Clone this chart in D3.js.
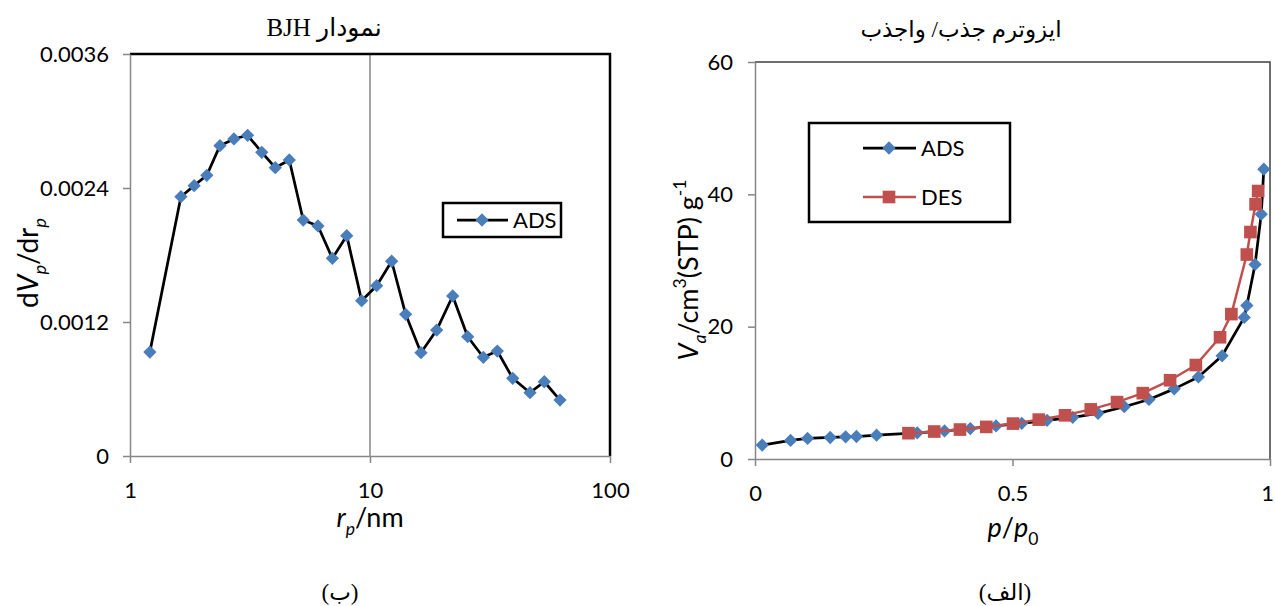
<!DOCTYPE html>
<html>
<head>
<meta charset="utf-8">
<script src="https://cdn.jsdelivr.net/npm/d3@7"></script>
<style>
body { margin: 0; background: #fff; }
text { font-family: Lato, "Open Sans", sans-serif; fill: #000; }
.fa { font-family: "Liberation Serif", "DejaVu Serif", "DejaVu Sans", serif; }
</style>
</head>
<body>
<script>
// BJH plot (left): pore radius (nm) vs dVp/drp
var bjhRadius = [1.21, 1.63, 1.85, 2.09, 2.37, 2.71, 3.09, 3.54, 4.03, 4.61, 5.27, 6.07, 6.97, 8.0,
                 9.23, 10.66, 12.31, 14.08, 16.31, 18.96, 22.11, 25.53, 29.66, 33.92, 39.32, 46.42, 53.23, 61.9];
var bjhAds = [0.000931, 0.002322, 0.002421, 0.002514, 0.002779, 0.002839, 0.002872, 0.00272, 0.002582, 0.002651,
              0.002113, 0.00206, 0.00177, 0.001973, 0.001391, 0.001525, 0.001744, 0.001269, 0.000925, 0.001128,
              0.001433, 0.001068, 0.000884, 0.00094, 0.000696, 0.000567, 0.000665, 0.000501];
var bjhTicksX = [1, 10, 100];
var bjhTicksY = [0, 0.0012, 0.0024, 0.0036];

// isotherm (right): p/p0 vs adsorbed volume
var adsP = [0.014, 0.069, 0.102, 0.146, 0.176, 0.197, 0.236, 0.315, 0.368, 0.418, 0.468, 0.518, 0.567,
            0.617, 0.666, 0.717, 0.765, 0.814, 0.861, 0.907, 0.950, 0.955, 0.971, 0.983, 0.988];
var adsV = [2.1, 2.8, 3.1, 3.25, 3.35, 3.4, 3.6, 3.95, 4.25, 4.6, 5.0, 5.4, 5.85,
            6.3, 6.9, 7.9, 9.0, 10.6, 12.4, 15.6, 21.4, 23.2, 29.4, 37.0, 43.8];
var desP = [0.298, 0.348, 0.398, 0.449, 0.501, 0.551, 0.602, 0.652, 0.703, 0.753, 0.806, 0.856, 0.903,
            0.925, 0.955, 0.962, 0.972, 0.977];
var desV = [3.9, 4.15, 4.45, 4.85, 5.35, 5.95, 6.6, 7.5, 8.6, 9.95, 11.9, 14.2, 18.4,
            21.9, 30.9, 34.3, 38.5, 40.5];
var isoTicksX = [0, 0.5, 1];
var isoTicksY = [0, 20, 40, 60];

var blue = "#4a7ebb", red = "#c0504d", axisGray = "#868686";

var svg = d3.select("body").append("svg")
    .attr("width", 1275)
    .attr("height", 606);
svg.append("rect").attr("width", 1275).attr("height", 606).attr("fill", "#fff");

// text with italic / sub / sup parts
function rich(g, parts) {
  var t = g.append("text");
  var shift = 0;
  parts.forEach(function(p) {
    var s = t.append("tspan").text(p.t);
    var target = p.sub ? 0.3 : (p.sup ? -0.45 : 0);
    var fs = (p.sub || p.sup) ? 0.65 : 1;
    if (target !== shift) {
      // dy is measured in the tspan's own font size
      s.attr("dy", ((target - shift) / fs) + "em");
      shift = target;
    }
    if (fs !== 1) s.attr("font-size", fs + "em");
    if (p.i) s.attr("font-style", "italic");
  });
  return t;
}

function styleAxis(g) {
  g.select(".domain").attr("stroke", axisGray).attr("stroke-width", 1.5);
  g.selectAll(".tick line").attr("stroke", axisGray).attr("stroke-width", 1.5);
  g.selectAll(".tick text").attr("font-size", 22).attr("font-family", "Lato, sans-serif").attr("fill", "#000");
}

var diamond = d3.symbol().type(d3.symbolSquare).size(88);
var square = d3.symbol().type(d3.symbolSquare).size(160);

// ---------- left: BJH ----------
(function() {
  var x = d3.scaleLog().domain([1, 100]).range([130, 610]);
  var y = d3.scaleLinear().domain([0, 0.0036]).range([456, 54]);

  // gridline at 10
  svg.append("line")
      .attr("x1", x(10)).attr("x2", x(10))
      .attr("y1", y(0.0036)).attr("y2", y(0))
      .attr("stroke", axisGray).attr("stroke-width", 1.5);

  // plot border top/right
  svg.append("path")
      .attr("d", "M" + x(1) + "," + y(0.0036) + "H" + x(100) + "V" + y(0))
      .attr("fill", "none").attr("stroke", "#000").attr("stroke-width", 2.5);

  var xa = svg.append("g")
      .attr("transform", "translate(0," + y(0) + ")")
      .call(d3.axisBottom(x).tickValues(bjhTicksX).tickFormat(d3.format("d"))
            .tickSize(7).tickSizeOuter(0).tickPadding(19));
  styleAxis(xa);

  var ya = svg.append("g")
      .attr("transform", "translate(" + x(1) + ",0)")
      .call(d3.axisLeft(y).tickValues(bjhTicksY)
            .tickFormat(function(d) { return d === 0 ? "0" : d.toFixed(4); })
            .tickSize(7).tickSizeOuter(0).tickPadding(14));
  styleAxis(ya);

  var pts = bjhRadius.map(function(r, i) { return [r, bjhAds[i]]; });
  var line = d3.line().x(function(d) { return x(d[0]); }).y(function(d) { return y(d[1]); });

  svg.append("path").datum(pts)
      .attr("d", line)
      .attr("fill", "none").attr("stroke", "#000")
      .attr("stroke-width", 2.75).attr("stroke-linejoin", "round");

  svg.append("g").selectAll("path")
      .data(pts)
      .enter().append("path")
      .attr("d", diamond)
      .attr("transform", function(d) { return "translate(" + x(d[0]) + "," + y(d[1]) + ") rotate(45)"; })
      .attr("fill", blue);

  // legend
  var lg = svg.append("g");
  lg.append("rect").attr("x", 443).attr("y", 203).attr("width", 118).attr("height", 34)
      .attr("fill", "#fff").attr("stroke", "#000").attr("stroke-width", 2.5);
  lg.append("line").attr("x1", 457).attr("x2", 508).attr("y1", 220).attr("y2", 220)
      .attr("stroke", "#000").attr("stroke-width", 2.75);
  lg.append("path").attr("d", diamond).attr("transform", "translate(482,220) rotate(45)").attr("fill", blue);
  lg.append("text").attr("x", 513).attr("y", 228).attr("font-size", 22).text("ADS");

  // axis titles
  rich(svg.append("g").attr("transform", "translate(370,527)"),
       [{t: "r", i: true}, {t: "p", i: true, sub: true}, {t: "/nm"}])
      .attr("font-size", 27).attr("text-anchor", "middle");
  rich(svg.append("g").attr("transform", "translate(38,263) rotate(-90)"),
       [{t: "d"}, {t: "V", i: true}, {t: "p", i: true, sub: true}, {t: "/dr"}, {t: "p", i: true, sub: true}])
      .attr("font-size", 28).attr("text-anchor", "middle");

  svg.append("text").attr("class", "fa")
      .attr("x", 324).attr("y", 36)
      .attr("direction", "rtl").attr("text-anchor", "middle")
      .attr("font-size", 25)
      .text("نمودار BJH");

  svg.append("text").attr("class", "fa")
      .attr("x", 340).attr("y", 600)
      .attr("direction", "rtl").attr("text-anchor", "middle")
      .attr("font-size", 23)
      .text("(ب)");
})();

// ---------- right: isotherm ----------
(function() {
  var x = d3.scaleLinear().domain([0, 1]).range([755, 1270]);
  var y = d3.scaleLinear().domain([0, 60]).range([459, 62]);

  svg.append("path")
      .attr("d", "M" + x(0) + "," + y(60) + "H" + x(1) + "V" + y(0))
      .attr("fill", "none").attr("stroke", "#404040").attr("stroke-width", 1.5);

  var xa = svg.append("g")
      .attr("transform", "translate(0," + y(0) + ")")
      .call(d3.axisBottom(x).tickValues(isoTicksX).tickFormat(function(d) { return String(d); })
            .tickSize(7).tickSizeOuter(0).tickPadding(19));
  styleAxis(xa);
  // last label sits against the page edge
  xa.selectAll(".tick text").filter(function(d) { return d === 1; }).attr("dx", -3);

  var ya = svg.append("g")
      .attr("transform", "translate(" + x(0) + ",0)")
      .call(d3.axisLeft(y).tickValues(isoTicksY).tickFormat(d3.format("d"))
            .tickSize(7).tickSizeOuter(0).tickPadding(15));
  styleAxis(ya);

  var line = d3.line().x(function(d) { return x(d[0]); }).y(function(d) { return y(d[1]); });
  var ads = adsP.map(function(p, i) { return [p, adsV[i]]; });
  var des = desP.map(function(p, i) { return [p, desV[i]]; });

  svg.append("path").datum(ads)
      .attr("d", line).attr("fill", "none").attr("stroke", "#000")
      .attr("stroke-width", 2.75).attr("stroke-linejoin", "round");
  svg.append("g").selectAll("path")
      .data(ads)
      .enter().append("path")
      .attr("d", diamond)
      .attr("transform", function(d) { return "translate(" + x(d[0]) + "," + y(d[1]) + ") rotate(45)"; })
      .attr("fill", blue);

  svg.append("path").datum(des)
      .attr("d", line).attr("fill", "none").attr("stroke", red)
      .attr("stroke-width", 2.5).attr("stroke-linejoin", "round");
  svg.append("g").selectAll("path")
      .data(des)
      .enter().append("path")
      .attr("d", square)
      .attr("transform", function(d) { return "translate(" + x(d[0]) + "," + y(d[1]) + ")"; })
      .attr("fill", red);

  // legend
  var lg = svg.append("g");
  lg.append("rect").attr("x", 809).attr("y", 123).attr("width", 201).attr("height", 99)
      .attr("fill", "#fff").attr("stroke", "#000").attr("stroke-width", 2.5);
  lg.append("line").attr("x1", 863).attr("x2", 916).attr("y1", 148).attr("y2", 148)
      .attr("stroke", "#000").attr("stroke-width", 2.75);
  lg.append("path").attr("d", diamond).attr("transform", "translate(889,148) rotate(45)").attr("fill", blue);
  lg.append("text").attr("x", 921).attr("y", 156).attr("font-size", 22).text("ADS");
  lg.append("line").attr("x1", 863).attr("x2", 916).attr("y1", 197).attr("y2", 197)
      .attr("stroke", red).attr("stroke-width", 2.5);
  lg.append("path").attr("d", square).attr("transform", "translate(889,197)").attr("fill", red);
  lg.append("text").attr("x", 921).attr("y", 205).attr("font-size", 22).text("DES");

  rich(svg.append("g").attr("transform", "translate(1013,537)"),
       [{t: "p", i: true}, {t: "/"}, {t: "p", i: true}, {t: "0", sub: true}])
      .attr("font-size", 27).attr("text-anchor", "middle");
  rich(svg.append("g").attr("transform", "translate(698,270) rotate(-90)"),
       [{t: "V", i: true}, {t: "a", i: true, sub: true}, {t: "/cm"}, {t: "3", sup: true},
        {t: "(STP) g"}, {t: "-1", sup: true}])
      .attr("font-size", 27).attr("text-anchor", "middle");

  svg.append("text").attr("class", "fa")
      .attr("x", 961).attr("y", 37)
      .attr("direction", "rtl").attr("text-anchor", "middle")
      .attr("font-size", 23)
      .text("ایزوترم جذب/ واجذب");

  svg.append("text").attr("class", "fa")
      .attr("x", 1005).attr("y", 600)
      .attr("direction", "rtl").attr("text-anchor", "middle")
      .attr("font-size", 23)
      .text("(الف)");
})();
</script>
</body>
</html>
